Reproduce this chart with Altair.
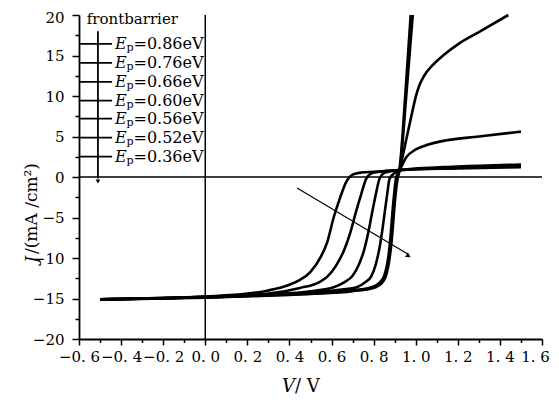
import altair as alt
import pandas as pd

FONT = "DejaVu Serif"

# ---------------- data ----------------
ep_labels = ["0.86", "0.76", "0.66", "0.60", "0.56", "0.52", "0.36"]

v1 = [-0.5, 0.0, 0.2, 0.3, 0.4, 0.45, 0.5, 0.55, 0.58, 0.61, 0.64, 0.67, 0.70, 0.74, 0.8, 0.92, 1.2, 1.5]
j1 = [-15.1, -14.75, -14.4, -14.0, -13.3, -12.7, -11.7, -9.8, -8.0, -5.0, -2.6, -0.6, 0.3, 0.55, 0.65, 0.85, 1.05, 1.2]

v2 = [-0.5, 0.0, 0.3, 0.45, 0.54, 0.58, 0.62, 0.66, 0.69, 0.715, 0.74, 0.765, 0.79, 0.83, 0.92, 1.2, 1.5]
j2 = [-15.1, -14.8, -14.4, -13.7, -13.0, -12.3, -11.0, -9.0, -6.8, -4.4, -2.2, -0.2, 0.45, 0.65, 0.85, 1.15, 1.35]

v3 = [-0.5, 0.0, 0.3, 0.5, 0.61, 0.66, 0.70, 0.73, 0.755, 0.775, 0.792, 0.81, 0.828, 0.85, 0.88, 0.92, 1.2, 1.5]
j3 = [-15.1, -14.8, -14.5, -14.1, -13.6, -13.0, -12.2, -10.8, -9.0, -6.8, -4.5, -2.2, -0.2, 0.5, 0.7, 0.85, 1.3, 1.55]

v4 = [-0.5, 0.0, 0.3, 0.5, 0.65, 0.72, 0.76, 0.79, 0.81, 0.826, 0.84, 0.852, 0.864, 0.876, 0.9, 0.922, 0.954, 1.0, 1.06, 1.14, 1.3, 1.5]
j4 = [-15.1, -14.85, -14.55, -14.25, -13.9, -13.6, -13.0, -12.2, -10.8, -9.0, -6.8, -4.5, -2.2, -0.2, 0.5, 0.85, 2.4, 3.4, 4.0, 4.5, 5.0, 5.6]

v5 = [-0.5, 0.0, 0.3, 0.5, 0.7, 0.79, 0.83, 0.85, 0.864, 0.874, 0.882, 0.889, 0.897, 0.906, 0.922, 0.94, 0.954,
      0.985, 1.0, 1.017, 1.04, 1.08, 1.13, 1.207, 1.3, 1.44]
j5 = [-15.1, -14.85, -14.6, -14.35, -14.0, -13.6, -13.0, -12.2, -10.8, -9.0, -6.8, -4.5, -2.2, -0.2, 0.85, 2.8, 4.5,
      8.2, 9.9, 11.3, 12.5, 13.8, 15.0, 16.5, 17.9, 20.0]

v6 = [-0.5, 0.0, 0.3, 0.5, 0.7, 0.8, 0.84, 0.857, 0.869, 0.878, 0.886, 0.893, 0.901, 0.91, 0.922, 0.95, 0.976]
j6 = [-15.15, -14.85, -14.6, -14.4, -14.05, -13.6, -12.9, -12.0, -10.6, -8.9, -6.7, -4.4, -2.1, -0.2, 0.85, 10.0, 20.0]

v7 = [-0.5, 0.0, 0.3, 0.5, 0.7, 0.81, 0.848, 0.862, 0.873, 0.882, 0.89, 0.897, 0.905, 0.914, 0.924, 0.955, 0.986]
j7 = [-15.15, -14.9, -14.65, -14.45, -14.1, -13.6, -12.8, -11.9, -10.5, -8.8, -6.6, -4.3, -2.0, -0.2, 0.85, 10.0, 20.0]

x_ticks = [-0.6, -0.5, -0.4, -0.3, -0.2, -0.1, 0.0, 0.1, 0.2, 0.3, 0.4, 0.5, 0.6,
           0.7, 0.8, 0.9, 1.0, 1.1, 1.2, 1.3, 1.4, 1.5, 1.6]
y_ticks = [-20, -17.5, -15, -12.5, -10, -7.5, -5, -2.5, 0, 2.5, 5, 7.5, 10, 12.5, 15, 17.5, 20]

# legend (data coordinates)
legend_J = [16.43, 14.09, 11.75, 9.42, 7.2, 4.86, 2.52]
legend_line_V = [-0.6, -0.443]
legend_text_V = -0.429
legend_arrow_V = -0.51
legend_arrow_J = [18.0, -0.2]
legend_head_J = -0.55
title_text = "frontbarrier"
title_pos = [-0.563, 19.5]

# direction arrow in plot
arrow_start = [0.436, -1.36]
arrow_end = [0.962, -9.5]
arrow_head = [0.966, -9.75]

zero_x = [0.0]
zero_y = [0.0]

# ---------------- build tables ----------------
rows = []
for name, vs, js in zip(ep_labels, [v1, v2, v3, v4, v5, v6, v7], [j1, j2, j3, j4, j5, j6, j7]):
    for i, (v, j) in enumerate(zip(vs, js)):
        rows.append({"ep": name, "V": v, "J": j, "i": i})
curves_df = pd.DataFrame(rows)

leg_df = pd.DataFrame({
    "ep": ep_labels,
    "J": legend_J,
    "V": [legend_line_V[0]] * 7,
    "V2": [legend_line_V[1]] * 7,
    "Vt": [legend_text_V] * 7,
    "txt": ["=" + e + "eV" for e in ep_labels],
})
legv_df = pd.DataFrame({"V": [legend_arrow_V], "J": [legend_arrow_J[0]], "J2": [legend_arrow_J[1]]})
legh_df = pd.DataFrame({"V": [legend_arrow_V], "J": [legend_head_J]})
ttl_df = pd.DataFrame({"V": [title_pos[0]], "J": [title_pos[1]], "t": [title_text]})
arr_df = pd.DataFrame({"V": [arrow_start[0]], "J": [arrow_start[1]], "V2": [arrow_end[0]], "J2": [arrow_end[1]]})
arrh_df = pd.DataFrame({"V": [arrow_head[0]], "J": [arrow_head[1]]})
zx_df = pd.DataFrame({"V": zero_x})
zy_df = pd.DataFrame({"J": zero_y})
dummy = pd.DataFrame({"a": [0]})

# ---------------- scales / axes ----------------
xscale = alt.Scale(domain=[-0.6, 1.6], nice=False, zero=False)
yscale = alt.Scale(domain=[-20, 20], nice=False, zero=False)

xaxis = alt.Axis(
    values=x_ticks, title=None, grid=False,
    labelExpr="abs(round(datum.value*10)) % 2 == 0 ? replace(format(datum.value, '.1f'), '.', '. ') : ''",
    tickSize={"condition": {"test": "abs(round(datum.value*10)) % 2 == 0", "value": 6}, "value": 3.5},
    labelOffset={"condition": {"test": "datum.value > 1.55", "value": -7}, "value": 0},
    labelFont=FONT, labelFontSize=15, labelColor="black", labelPadding=4,
    labelFlush=False, labelOverlap=False,
    domainColor="black", domainWidth=1.8, tickColor="black", tickWidth=1.5,
)
yaxis = alt.Axis(
    values=y_ticks, title=None, grid=False,
    labelExpr="abs(datum.value) % 5 == 0 ? format(datum.value, 'd') : ''",
    tickSize={"condition": {"test": "abs(datum.value) % 5 == 0", "value": 7}, "value": 4},
    labelOffset={"condition": {"test": "datum.value > 19", "value": 2}, "value": 0},
    labelFont=FONT, labelFontSize=15, labelColor="black", labelPadding=8,
    labelFlush=False, labelOverlap=False,
    domainColor="black", domainWidth=1.8, tickColor="black", tickWidth=1.5,
)


def X(f="V"):
    return alt.X(f, type="quantitative", scale=xscale, axis=xaxis)


def Y(f="J"):
    return alt.Y(f, type="quantitative", scale=yscale, axis=yaxis)


# ---------------- layers ----------------
zx = alt.Chart(zx_df).mark_rule(color="black", strokeWidth=1.5).encode(x=X())
zy = alt.Chart(zy_df).mark_rule(color="black", strokeWidth=1.5).encode(y=Y())

curves = alt.Chart(curves_df).mark_line(color="black", strokeWidth=2.6, interpolate="monotone").encode(
    x=X(), y=Y(), detail="ep:N", order="i:Q"
)

leg_lines = alt.Chart(leg_df).mark_rule(color="black", strokeWidth=1.8).encode(
    x=X(), x2="V2:Q", y=Y()
)
leg_E = alt.Chart(leg_df).mark_text(
    align="left", baseline="middle", font=FONT, fontSize=16, fontStyle="italic", color="black"
).encode(x=X("Vt"), y=Y(), text=alt.value("E"))
leg_p = alt.Chart(leg_df).mark_text(
    align="left", baseline="middle", font=FONT, fontSize=11, color="black", dx=11.5, dy=4
).encode(x=X("Vt"), y=Y(), text=alt.value("p"))
leg_t = alt.Chart(leg_df).mark_text(
    align="left", baseline="middle", font=FONT, fontSize=16, color="black", dx=18.5
).encode(x=X("Vt"), y=Y(), text="txt:N")

leg_v = alt.Chart(legv_df).mark_rule(color="black", strokeWidth=1.8).encode(x=X(), y=Y(), y2="J2:Q")
leg_h = alt.Chart(legh_df).mark_point(shape="triangle-down", filled=True, size=22, color="black", opacity=1).encode(
    x=X(), y=Y()
)
ttl = alt.Chart(ttl_df).mark_text(
    align="left", baseline="middle", font=FONT, fontSize=15, color="black"
).encode(x=X(), y=Y(), text="t:N")

arr = alt.Chart(arr_df).mark_rule(color="black", strokeWidth=1.2).encode(x=X(), y=Y(), x2="V2:Q", y2="J2:Q")
arrh = alt.Chart(arrh_df).mark_point(shape="triangle-right", filled=True, size=30, angle=32, color="black", opacity=1).encode(
    x=X(), y=Y()
)

# axis titles (mixed italic / roman)
xt1 = alt.Chart(dummy).mark_text(align="left", baseline="alphabetic", font=FONT, fontSize=18,
                                 fontStyle="italic", color="black").encode(
    x=alt.value(203), y=alt.value(377), text=alt.value("V"))
xt2 = alt.Chart(dummy).mark_text(align="left", baseline="alphabetic", font=FONT, fontSize=18,
                                 color="black").encode(
    x=alt.value(216), y=alt.value(377), text=alt.value(" / V"))
yt1 = alt.Chart(dummy).mark_text(align="left", baseline="middle", font=FONT, fontSize=17,
                                 fontStyle="italic", color="black", angle=270).encode(
    x=alt.value(-47), y=alt.value(248), text=alt.value("J"))
yt2 = alt.Chart(dummy).mark_text(align="left", baseline="middle", font=FONT, fontSize=17,
                                 color="black", angle=270).encode(
    x=alt.value(-47), y=alt.value(239), text=alt.value(" /(mA /cm²)"))

chart = alt.layer(
    zx, zy, curves, leg_lines, leg_v, leg_h, leg_E, leg_p, leg_t, ttl, arr, arrh, xt1, xt2, yt1, yt2
).properties(
    width=463, height=324,
    padding={"left": 71, "top": 7, "right": 9, "bottom": 56},
    autosize=alt.AutoSizeParams(type="none"),
    background="white",
).configure_view(stroke=None)

chart.save("out.html", embed_options={"renderer": "svg", "actions": False})
